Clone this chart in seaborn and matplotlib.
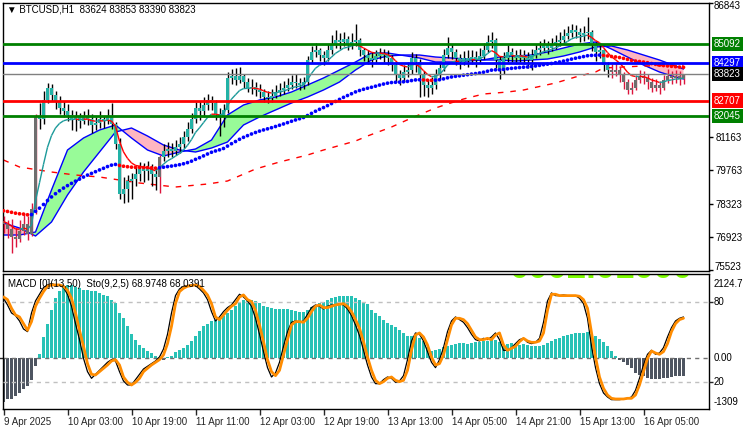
import numpy as np
import pandas as pd
import matplotlib
matplotlib.use("Agg")
import matplotlib.pyplot as plt
import matplotlib.transforms as mtransforms
from matplotlib.collections import LineCollection
import seaborn as sns

# ---------------- data ----------------
first_open = 77600
close = [77487, 77276, 76940, 76855, 77192, 77487, 77066, 78118, 81990, 81906,
         82748, 83253, 82958, 82664, 82411, 82243, 82075, 81906, 81990, 81822,
         81990, 81906, 81654, 81738, 81906, 81822, 81990, 81696, 80854, 78749,
         78960, 79297, 79381, 79591, 79802, 79718, 79802, 79591, 79465, 80307,
         80559, 80643, 80559, 80728, 80854, 81149, 81485, 81906, 82411, 82243,
         82538, 82748, 82622, 82117, 81990, 82327, 83674, 83758, 83590, 83758,
         83506, 83253, 83295, 83169, 83085, 82874, 82832, 82916, 83085, 83169,
         83253, 83379, 83506, 83464, 83379, 83506, 84432, 84768, 84852, 84642,
         84516, 84852, 85063, 85273, 85189, 85315, 85105, 85189, 85273, 84852,
         84642, 84516, 84432, 84600, 84726, 84642, 84516, 84221, 83800, 83674,
         83927, 84011, 84516, 84347, 83800, 83379, 83253, 83379, 83800, 84095,
         84642, 84937, 84768, 84516, 84347, 84516, 84432, 84558, 84432, 84600,
         84852, 85189, 85273, 84432, 84011, 84516, 84768, 84642, 84516, 84642,
         84516, 84432, 84642, 84852, 84937, 85063, 84937, 85063, 85189, 85273,
         85442, 85568, 85694, 85610, 85484, 85568, 85610, 85063, 84768, 84852,
         84221, 84011, 83927, 84011, 83800, 83506, 83169, 83253, 83590, 83758,
         83674, 83506, 83253, 83379, 83253, 83590, 83758, 83674, 83750, 83624,
         83823]
high = [77800, 77650, 77700, 77300, 77650, 77950, 77800, 78350, 82150, 82600,
        83100, 83450, 83400, 83100, 82900, 82700, 82550, 82300, 82250, 82200,
        82250, 82350, 82150, 82000, 82250, 82050, 82350, 82600, 81800, 81100,
        79450, 79550, 79650, 79900, 80100, 80050, 80150, 80000, 79850, 80400,
        80850, 80950, 80900, 81050, 81150, 81400, 81800, 82200, 82650, 82700,
        82850, 83000, 82900, 82750, 82400, 82550, 83900, 84050, 84100, 84150,
        83850, 83650, 83600, 83500, 83400, 83200, 83100, 83200, 83350, 83450,
        83550, 83650, 83800, 83850, 83650, 83700, 84600, 85000, 85150, 84950,
        84800, 85100, 85500, 85700, 85550, 85600, 85450, 85550, 85950, 85350,
        84950, 84850, 84750, 84850, 84950, 84900, 84850, 84650, 84350, 84000,
        84200, 84350, 84750, 84700, 84450, 83950, 83600, 83700, 84050, 84350,
        84900, 85400, 85100, 84900, 84700, 84800, 84850, 84850, 84800, 84950,
        85150, 85500, 85600, 85350, 84600, 84750, 85050, 84950, 84850, 84900,
        84850, 84750, 84900, 85100, 85250, 85300, 85250, 85350, 85500, 85600,
        85750, 85850, 85950, 85900, 85800, 85850, 86250, 85700, 85200, 85100,
        84900, 84350, 84250, 84300, 84150, 83900, 83600, 83500, 83800, 84000,
        83950, 83850, 83650, 83600, 83550, 83800, 84050, 83950, 84000, 83950,
        83853]
low = [77100, 76900, 76250, 76500, 76700, 77000, 76800, 76950, 77900, 81500,
       81700, 82600, 82700, 82350, 82150, 82000, 81850, 81450, 81400, 81550,
       81700, 81650, 81350, 81450, 81550, 81550, 81700, 81500, 80650, 78550,
       78350, 78400, 78550, 79100, 79300, 79250, 79350, 79100, 78900, 78800,
       80150, 80300, 80300, 80400, 80500, 80700, 81000, 81350, 81750, 81900,
       82000, 82300, 82300, 81900, 81200, 81600, 82200, 83400, 83350, 83450,
       83250, 83050, 83000, 82900, 82800, 82650, 82600, 82650, 82800, 82900,
       83000, 83100, 83200, 83250, 83150, 83200, 83350, 84300, 84550, 84400,
       84200, 84400, 84700, 84950, 84900, 85000, 84850, 84900, 85000, 84600,
       84400, 84250, 84150, 84300, 84450, 84350, 84200, 83950, 83500, 83350,
       83500, 83700, 83850, 83900, 82850, 82900, 82850, 83000, 83200, 83600,
       83950, 84500, 84450, 84200, 84050, 84200, 84150, 84250, 84150, 84300,
       84450, 84750, 84950, 84100, 83600, 83850, 84350, 84350, 84250, 84350,
       84250, 84100, 84000, 84500, 84650, 84750, 84700, 84800, 84900, 85000,
       85150, 85300, 85400, 85350, 85200, 85250, 85300, 84800, 84400, 84500,
       83950, 83700, 83650, 83750, 83500, 83200, 83000, 83000, 83150, 83450,
       83400, 83200, 83050, 83100, 83000, 83150, 83450, 83400, 83450, 83350,
       83390]
bear_ranges = [(0, 8), (39, 39), (152, 170)]

# indicator read-offs
cloud_bars = [0, 4, 8, 12, 16, 20, 24, 28, 32, 36, 40, 44, 48, 52, 56, 60, 64, 68, 72, 76,
              80, 84, 88, 92, 96, 100, 104, 108, 112, 116, 120, 124, 128, 132, 136, 140,
              144, 148, 152, 156, 160, 164, 168, 170]
cloud_fast = [77006, 77006, 77133, 78914, 80610, 81119, 81458, 81670, 81119, 80610,
              80356, 80525, 80652, 81034, 82094, 82518, 82730, 82857, 83069, 83366,
              83663, 84002, 84341, 84723, 84723, 84617, 84511, 84341, 84341, 84384,
              84434, 84553, 84596, 84638, 84765, 84935, 85104, 85189, 84892, 84553,
              84214, 83917, 83705, 83620]
cloud_slow = [77515, 77303, 76964, 77557, 78702, 79677, 80525, 81373, 81543, 81204,
              80822, 80610, 80525, 80695, 80949, 81670, 82009, 82306, 82603, 82857,
              83154, 83493, 84002, 84426, 84596, 84638, 84638, 84553, 84511, 84468,
              84426, 84426, 84384, 84426, 84468, 84596, 84765, 84977, 85020, 84850,
              84638, 84426, 84172, 84044]
long_ma_bars = [0, 4, 12, 18, 24, 34, 43, 51, 56, 63, 69, 76, 80, 88, 91, 97, 102, 108,
                111, 115, 120, 126, 130, 138, 143, 148, 150, 160, 170]
long_ma = [80186, 79889, 79677, 79550, 79465, 79211, 79041, 79168, 79296, 79804, 80101,
           80398, 80610, 80992, 81204, 81585, 81967, 82391, 82560, 82772, 82984, 83069,
           83154, 83451, 83705, 83917, 84087, 84172, 84214]
fast_seed, fast_span = 77600, 8
dot_seed, dot_span = 78050, 58

levels = [85092, 84297, 83823, 82707, 82045]
level_colors = ['#008000', '#0000FF', '#808080', '#FF0000', '#008000']
level_label_bg = ['#008000', '#0000FF', '#000000', '#FF0000', '#008000']
price_ticks = [81163, 79763, 78323, 76923]
top_price, bottom_price = 86843, 75523

macd = [-1135, -1067, -1067, -982, -897, -813, -728, -560, -220, 102, 516, 855, 1219,
        1516, 1685, 1812, 1854, 1854, 1795, 1770, 1727, 1710, 1702, 1685, 1643, 1600,
        1558, 1473, 1389, 1135, 1008, 796, 610, 457, 330, 246, 178, 119, 51, 17, -51,
        17, 51, 135, 203, 246, 330, 415, 542, 669, 796, 864, 923, 965, 1008, 1050, 1135,
        1219, 1304, 1389, 1456, 1473, 1473, 1448, 1389, 1321, 1279, 1262, 1245, 1245,
        1245, 1245, 1219, 1177, 1152, 1168, 1219, 1279, 1346, 1389, 1414, 1456, 1516,
        1541, 1558, 1558, 1575, 1575, 1516, 1473, 1414, 1363, 1219, 1135, 1050, 965,
        881, 838, 779, 711, 627, 559, 542, 542, 500, 415, 271, 178, 186, 220, 262, 305,
        330, 356, 373, 373, 356, 373, 389, 406, 415, 432, 457, 440, 400, 305, 347, 364,
        356, 330, 356, 322, 296, 288, 305, 330, 373, 432, 474, 500, 542, 584, 610, 627,
        627, 627, 644, 601, 542, 474, 389, 288, 161, 51, -51, -102, -178, -271, -389,
        -432, -457, -516, -542, -542, -542, -525, -516, -483, -457, -457, -457]
sto_k = [83, 78, 72, 70, 66, 60, 58, 72, 81, 86, 91, 93, 94, 93, 93, 91, 86, 77, 64, 52,
         38, 28, 23, 26, 29, 32, 35, 37, 36, 28, 21, 18, 18, 22, 26, 30, 32, 34, 36, 39,
         45, 56, 72, 85, 90, 92, 92.5, 93, 92.5, 90, 87, 82, 73, 66, 69, 73, 76, 78, 82,
         86, 84, 81, 77, 68, 56, 43, 31, 24, 27, 35, 47, 58, 65, 66, 65, 66, 71, 76, 78,
         77, 75, 77, 78, 78, 79, 78, 75, 70, 63, 55, 44, 33, 24, 19, 19, 22, 24, 23, 20,
         21, 25, 37, 51, 57, 56, 51, 43, 35, 31, 37, 46, 58, 66, 69, 67, 65, 61, 56, 52,
         51, 53, 52, 54, 57, 52, 44, 44, 46, 49, 52, 53, 50, 49, 50, 53, 65, 81, 87, 85,
         85, 85.5, 85, 85, 85, 83, 79, 68, 47, 31, 19, 12, 9, 7, 7, 7, 7.5, 8, 9, 14, 23,
         33, 41, 44, 41, 42, 46, 54, 61, 66, 68, 68.97]
sto_d = [84, 82, 75.5, 70.5, 69, 64, 59, 65.5, 77, 83, 88, 92, 93, 93, 93, 92, 89, 83, 72,
         59, 47, 34, 26, 25.5, 28, 30.5, 33, 36, 37, 33, 24, 20, 18, 20, 23, 28, 30.5, 33,
         35, 37, 40.5, 49, 62, 79, 88, 90.5, 92, 92.5, 93, 92, 89, 85.5, 79, 69, 67, 70.5,
         74, 77, 79, 84, 85.5, 82, 80.5, 74, 63, 50.5, 37, 28, 25, 29, 40.5, 52, 63, 65.5,
         65.5, 65, 68, 73, 77, 78, 76, 76, 77, 78, 78.5, 79, 77, 73, 67, 60.5, 50.5, 39,
         29, 21.5, 19, 20.5, 23, 24, 21.5, 20.5, 21.5, 29, 44, 55.5, 57, 54, 48, 39, 33,
         34, 40.5, 52, 63, 68, 68, 67, 64, 59, 54, 52, 52, 53, 52, 55.5, 57, 48, 44, 45.5,
         47, 50.5, 53, 51, 50, 50, 51, 57, 74, 86, 86, 85, 85, 85, 85, 85, 84.5, 82, 75.5,
         57, 39, 24, 15.5, 10.5, 8, 7.5, 7.5, 7.5, 8, 8, 10.5, 18, 28, 38, 43.5, 42, 41,
         43, 49, 58, 64, 67, 68.04]
time_tick_bars = [0, 16, 32, 48, 64, 80, 96, 112, 128, 144, 160]
time_labels = ["9 Apr 2025", "10 Apr 03:00", "10 Apr 19:00", "11 Apr 11:00",
               "12 Apr 03:00", "12 Apr 19:00", "13 Apr 13:00", "14 Apr 05:00",
               "14 Apr 21:00", "15 Apr 13:00", "16 Apr 05:00"]
title_text = "\u25BC BTCUSD,H1  83624 83853 83390 83823"
sub_title = "MACD [0](13,50)  Sto(9,2,5) 68.9748 68.0391"
lime_text = "0002.01000"
macd_max, macd_min = 2124.7, -1309
sto_levels = [80, 20]

# ---------------- style ----------------
sns.set_theme(style="white")
plt.rcParams['font.family'] = ['Liberation Sans', 'DejaVu Sans']
plt.rcParams['font.size'] = 7
FS = 7

W, H = 750, 430
fig = plt.figure(figsize=(W / 100, H / 100), dpi=100)
fig.patch.set_facecolor('white')


def px_axes(x0, y0, x1, y1):
    return fig.add_axes([x0 / W, 1 - y1 / H, (x1 - x0) / W, (y1 - y0) / H])


ax = px_axes(3, 3, 709, 271)
axm = px_axes(3, 274, 709, 409)
for a in (ax, axm):
    a.set_facecolor('white')
    for s in a.spines.values():
        s.set_color('black')
        s.set_linewidth(1)

n = len(close)
bars = np.arange(n)
c = np.array(close, float)
o = np.array([first_open] + close[:-1], float)
h = np.array(high, float)
l = np.array(low, float)
bear = np.zeros(n, bool)
for a0, a1 in bear_ranges:
    bear[a0:a1 + 1] = True

xlim = (-0.125, 176.375)
LX = 1.0 + 5 / 706  # right-hand label column

# ---------------- main panel ----------------
cb = np.array(cloud_bars, float)
cf = np.array(cloud_fast, float)
cs = np.array(cloud_slow, float)
ax.fill_between(cb, cf, cs, where=cf >= cs, interpolate=True, color='#98FB98', lw=0, zorder=1)
ax.fill_between(cb, cf, cs, where=cf < cs, interpolate=True, color='#FFB6C1', lw=0, zorder=1)
sns.lineplot(x=cb, y=cf, ax=ax, color='#0000FF', lw=1, zorder=2)
sns.lineplot(x=cb, y=cs, ax=ax, color='#0000FF', lw=1, zorder=2)
ax.plot(long_ma_bars, long_ma, color='#FF0000', lw=1, linestyle=(0, (4, 5)), zorder=2)

wick_col = np.where(bear, '#DC143C', '#000000')
ax.vlines(bars, np.minimum(l, np.minimum(o, c)), np.maximum(h, np.maximum(o, c)),
          colors=wick_col, lw=1, zorder=3)
body_lo = np.minimum(o, c)
body_h = np.maximum(np.abs(c - o), 45)
ax.bar(bars, body_h, bottom=body_lo, width=0.72,
       color=np.where(bear, '#6E6E6E', '#22B2A6'), lw=0, zorder=4)

fast = pd.Series([fast_seed] + close, dtype=float).ewm(span=fast_span, adjust=False).mean().values[1:]
pts = np.column_stack([bars, fast])
segs = np.stack([pts[:-1], pts[1:]], axis=1)
seg_cols = np.where(np.diff(fast) >= 0, '#1C9A9A', '#FF0000')
ax.add_collection(LineCollection(segs, colors=seg_cols, linewidths=1, zorder=5))

dots = pd.Series([dot_seed] + close, dtype=float).ewm(span=dot_span, adjust=False).mean().values
dot_cols = np.where(np.diff(dots) >= 0, '#0000FF', '#FF0000')
ax.scatter(bars, dots[1:], s=7, c=dot_cols, marker='o', linewidths=0, zorder=6)

for lv, lc in zip(levels, level_colors):
    ax.axhline(lv, color=lc, lw=1 if lc == '#808080' else 2, zorder=7)

ax.set_xlim(*xlim)
ax.set_ylim(75480, top_price)
ax.set_xticks([])
ax.tick_params(axis='y', left=False, labelleft=False, right=True, labelright=True,
               direction='out', length=3, width=1, color='black',
               labelsize=FS, pad=2, labelcolor='black')
ax.set_yticks([top_price] + price_ticks + [bottom_price])
ax.set_yticklabels([''] + [str(v) for v in price_ticks] + [''])
ax.set_ylabel('')
ax.set_xlabel('')
trans = mtransforms.blended_transform_factory(ax.transAxes, ax.transData)
ax.text(LX, 1 - 3 / 268, str(top_price), transform=ax.transAxes, ha='left',
        va='center', fontsize=FS, color='black', clip_on=False)
ax.text(LX, 1 - 264 / 268, str(bottom_price), transform=ax.transAxes, ha='left',
        va='center', fontsize=FS, color='black', clip_on=False)
for lv, bg in zip(levels, level_label_bg):
    ax.text(LX, lv, str(lv), transform=trans, ha='left', va='center',
            fontsize=FS, color='white', clip_on=False, zorder=10,
            bbox=dict(boxstyle='square,pad=0.22', fc=bg, ec='none'))
ax.text(0.006, 1 - 7 / 268, title_text, transform=ax.transAxes, ha='left', va='center',
        fontsize=FS, color='black')

# ---------------- MACD / stochastic panel ----------------
mv = np.array(macd, float)
axm.bar(bars, mv, width=0.75, color=np.where(mv >= 0, '#28C2B6', '#4E5561'), lw=0, zorder=1)
axm.axhline(0, color='#707070', lw=1, linestyle=(0, (3, 3)), zorder=2)
axm.set_xlim(*xlim)
axm.set_ylim(macd_min, macd_max)
axm.tick_params(axis='y', left=False, labelleft=False, right=True, labelright=False,
                direction='out', length=3, width=1)
axm.set_yticks([0])
axm.set_xticks(time_tick_bars)
axm.set_xticklabels(time_labels)
for t in axm.get_xticklabels():
    t.set_ha('left')
axm.tick_params(axis='x', direction='out', length=4, width=1, labelsize=FS, pad=2,
                bottom=True)
axm.text((510 - 3) / 706, 1 - 4 / 135, lime_text, transform=axm.transAxes, ha='left',
         va='baseline', fontsize=25, fontweight='bold', color='#7CFC00', clip_on=True,
         zorder=0)
mtrans = mtransforms.blended_transform_factory(axm.transAxes, axm.transData)
axm.text(LX, 0, '0.00', transform=mtrans, ha='left', va='center', fontsize=FS,
         color='black', clip_on=False)

axs = axm.twinx()
axs.set_ylim(0, 101.2)
for sl in sto_levels:
    axs.axhline(sl, color='#C0C0C0', lw=1, linestyle=(0, (3, 3)), zorder=1)
sns.lineplot(x=bars, y=np.array(sto_k, float), ax=axs, color='black', lw=0.9, zorder=3)
sns.lineplot(x=bars, y=np.array(sto_d, float), ax=axs, color='#FF8C00', lw=2, zorder=4)
axs.set_xlim(*xlim)
axs.set_ylim(0, 101.2)
axs.set_yticks(sto_levels)
axs.tick_params(axis='y', left=False, labelleft=False, right=True, labelright=False,
                direction='out', length=3, width=1)
axs.set_ylabel('')
axs.set_xlabel('')
for s in axs.spines.values():
    s.set_visible(False)
strans = mtransforms.blended_transform_factory(axs.transAxes, axs.transData)
for sl in sto_levels:
    axs.text(LX, sl, str(sl), transform=strans, ha='left', va='center', fontsize=FS,
             color='black', clip_on=False)

axs.text(LX, 1 - 10 / 135, '2124.7', transform=axs.transAxes, ha='left',
         va='center', fontsize=FS, color='black', clip_on=False)
axs.text(LX, 7 / 135, '-1309', transform=axs.transAxes, ha='left',
         va='center', fontsize=FS, color='black', clip_on=False)
axs.text(0.007, 1 - 10 / 135, sub_title, transform=axs.transAxes, ha='left',
         va='center', fontsize=FS, color='black', zorder=6)

fig.savefig('out.png', dpi=100, facecolor='white')
